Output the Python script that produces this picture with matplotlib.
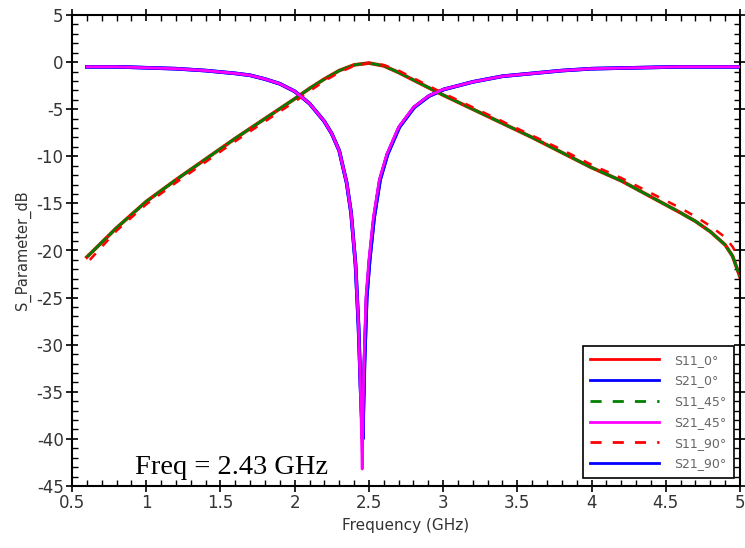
import matplotlib
matplotlib.use("Agg")
import matplotlib.pyplot as plt
from matplotlib.lines import Line2D
from matplotlib.ticker import MultipleLocator

plt.rcParams["axes.unicode_minus"] = False

# ---- data ----
# bandpass-like curve (S11_0 / S11_45)
f_s11 = [0.6, 0.8, 1.0, 1.2, 1.4, 1.6, 1.8, 2.0, 2.1, 2.2, 2.3, 2.4, 2.5, 2.6, 2.7,
         2.8, 2.9, 3.0, 3.2, 3.4, 3.6, 3.8, 4.0, 4.2, 4.4, 4.6, 4.7, 4.8, 4.9, 4.95, 5.0]
s11_45 = [-20.7, -17.6, -14.8, -12.5, -10.3, -8.1, -6.0, -3.9, -2.8, -1.8, -0.9, -0.3, -0.1,
          -0.4, -1.1, -1.9, -2.7, -3.5, -5.0, -6.5, -8.0, -9.6, -11.2, -12.6, -14.3, -16.0,
          -16.9, -18.0, -19.4, -20.6, -22.8]
s11_0 = [-20.7, -17.6, -14.8, -12.5, -10.3, -8.1, -6.0, -3.9, -2.8, -1.8, -0.9, -0.3, -0.1,
         -0.4, -1.1, -1.9, -2.7, -3.5, -5.0, -6.5, -8.0, -9.6, -11.2, -12.6, -14.3, -16.0,
         -16.9, -18.0, -19.4, -20.6, -22.8]
f_s11_90 = [0.62, 0.8, 1.0, 1.2, 1.4, 1.6, 1.8, 2.0, 2.1, 2.2, 2.3, 2.4, 2.5, 2.6, 2.7,
            2.8, 2.9, 3.0, 3.2, 3.4, 3.6, 3.8, 4.0, 4.2, 4.4, 4.6, 4.7, 4.8, 4.9, 4.95, 5.0]
s11_90 = [-21.0, -17.9, -15.1, -12.8, -10.6, -8.4, -6.3, -4.2, -3.1, -2.0, -1.1, -0.4, -0.1,
          -0.3, -0.9, -1.7, -2.5, -3.3, -4.8, -6.3, -7.8, -9.3, -10.9, -12.3, -13.9, -15.5,
          -16.4, -17.4, -18.6, -19.6, -21.0]

# notch curve (S21_45 magenta, S21_0 / S21_90 blue)
f_s21 = [0.6, 0.8, 1.0, 1.2, 1.4, 1.6, 1.7, 1.8, 1.9, 2.0, 2.1, 2.2, 2.25, 2.3, 2.35, 2.38,
         2.41, 2.43, 2.445, 2.455, 2.465, 2.48, 2.5, 2.53, 2.57, 2.62, 2.7, 2.8, 2.9, 3.0,
         3.2, 3.4, 3.6, 3.8, 4.0, 4.3, 4.6, 5.0]
s21_45 = [-0.5, -0.5, -0.6, -0.7, -0.9, -1.2, -1.4, -1.8, -2.3, -3.1, -4.4, -6.3, -7.6, -9.4,
          -12.8, -16.0, -21.5, -28.0, -36.0, -43.2, -33.0, -25.0, -21.0, -16.5, -12.5, -9.8,
          -6.9, -4.8, -3.6, -2.9, -2.1, -1.5, -1.2, -0.9, -0.7, -0.6, -0.5, -0.5]
f_s21_b = [0.6, 0.8, 1.0, 1.2, 1.4, 1.6, 1.7, 1.8, 1.9, 2.0, 2.1, 2.2, 2.25, 2.3, 2.35, 2.38,
           2.41, 2.43, 2.445, 2.458, 2.47, 2.485, 2.505, 2.535, 2.575, 2.625, 2.705, 2.805,
           2.905, 3.005, 3.2, 3.4, 3.6, 3.8, 4.0, 4.3, 4.6, 5.0]
s21_0 = [-0.5, -0.5, -0.6, -0.7, -0.9, -1.2, -1.4, -1.8, -2.3, -3.1, -4.4, -6.3, -7.6, -9.4,
         -12.8, -16.0, -21.5, -28.0, -35.0, -40.0, -32.0, -25.0, -21.0, -16.5, -12.5, -9.8,
         -6.9, -4.8, -3.6, -2.9, -2.1, -1.5, -1.2, -0.9, -0.7, -0.6, -0.5, -0.5]
s21_90 = s21_0

legend_labels = ["S11_0°", "S21_0°", "S11_45°", "S21_45°", "S11_90°", "S21_90°"]
x_ticks = [0.5, 1, 1.5, 2, 2.5, 3, 3.5, 4, 4.5, 5]
x_tick_labels = ["0.5", "1", "1.5", "2", "2.5", "3", "3.5", "4", "4.5", "5"]
y_ticks = [5, 0, -5, -10, -15, -20, -25, -30, -35, -40, -45]
annotation = "Freq = 2.43 GHz"

# ---- figure ----
fig = plt.figure(figsize=(7.45, 5.48), dpi=100)
ax = fig.add_axes([72 / 745, 1 - 486 / 548, 668 / 745, 471 / 548])

lw = 2.0
ax.plot(f_s11, s11_0, color="#ff0000", lw=lw + 0.6, zorder=2)
ax.plot(f_s21_b, s21_0, color="#0000ff", lw=lw + 0.6, zorder=2)
ax.plot(f_s11, s11_45, color="#008000", lw=lw, ls=(0, (10, 0.8)), zorder=3)
ax.plot(f_s21_b, s21_90, color="#0000ff", lw=lw + 0.6, zorder=2)
ax.plot(f_s21, s21_45, color="#ff00ff", lw=lw, zorder=4)
ax.plot(f_s11_90, s11_90, color="#ff0000", lw=1.8, ls=(0, (3.5, 4)), zorder=3)

ax.set_xlim(0.5, 5)
ax.set_ylim(-45, 5)
ax.set_xticks(x_ticks)
ax.set_xticklabels(x_tick_labels)
ax.set_yticks(y_ticks)
ax.xaxis.set_minor_locator(MultipleLocator(0.1))
ax.yaxis.set_minor_locator(MultipleLocator(1))
ax.tick_params(which="major", direction="inout", length=8, width=1.2,
               top=True, right=True, labelsize=12, colors="black", pad=2)
ax.tick_params(which="minor", direction="in", length=4, width=1.0,
               top=True, right=True)
for s in ax.spines.values():
    s.set_linewidth(1.5)

for lab in ax.get_xticklabels() + ax.get_yticklabels():
    lab.set_color("#333333")

ax.set_xlabel("Frequency (GHz)", fontsize=11, color="#333333", labelpad=4)
ax.set_ylabel("S_Parameter_dB", fontsize=10.5, color="#333333", labelpad=4)

ax.text(0.925, -43.0, annotation, fontsize=20.5, family="Liberation Serif",
        va="center", ha="left", color="black")

handles = [
    Line2D([], [], color="#ff0000", lw=lw),
    Line2D([], [], color="#0000ff", lw=lw),
    Line2D([], [], color="#008000", lw=lw, ls=(0, (4, 4))),
    Line2D([], [], color="#ff00ff", lw=lw),
    Line2D([], [], color="#ff0000", lw=lw, ls=(0, (4, 4))),
    Line2D([], [], color="#0000ff", lw=lw),
]
leg = ax.legend(handles, legend_labels, loc="lower right",
                bbox_to_anchor=(0.991, 0.017), fontsize=9, handlelength=5.5,
                labelspacing=0.62, handletextpad=1.2, borderpad=0.6,
                fancybox=False, framealpha=1, edgecolor="black", borderaxespad=0)
leg.get_frame().set_linewidth(1.2)
for t in leg.get_texts():
    t.set_color("#666666")

fig.savefig("out.png", dpi=100)
